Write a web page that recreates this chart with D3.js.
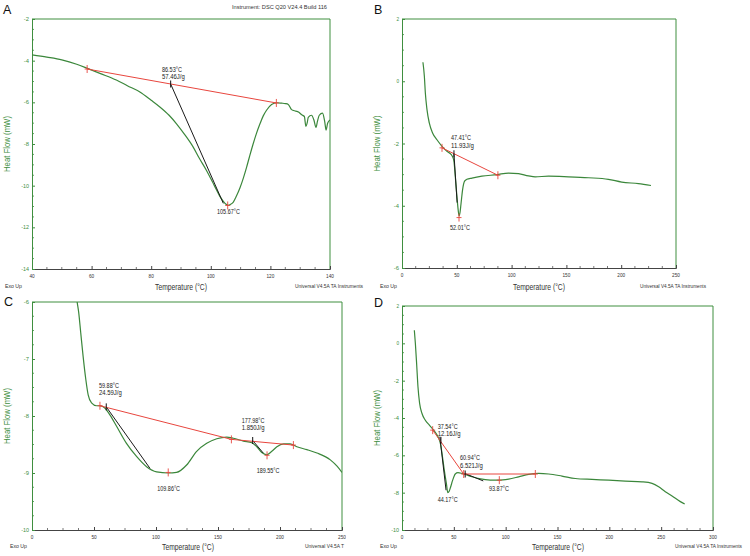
<!DOCTYPE html>
<html><head><meta charset="utf-8">
<script src="https://cdn.jsdelivr.net/npm/d3@7"></script>
<style>body{margin:0;background:#fff}svg{display:block}text{font-family:"Liberation Sans",Arial,sans-serif}</style>
</head><body><svg id="chart" width="750" height="556"></svg>
<script>
// ---------- Panel A ----------
const aTemp = [40,45,50,55,58.8,63,68.3,72,76.2,80,82.9,86,88.5,91,94.1,96,98.6,100.5,101.9,103,104.2,105,105.8,106.6,107.5,108.6,109.8,111,112,113,114.2,115.3,116.5,117.6,118.7,120.4,122.1,123.8,125,126,127.1,128.5,129.4,130.5,131.4,131.9,132.4,132.7,133.8,134.6,135.3,135.8,136.4,137.5,138.2,138.7,139.2,140];
const aHeat = [-3.72,-3.83,-3.96,-4.17,-4.38,-4.62,-4.93,-5.2,-5.5,-5.9,-6.22,-6.62,-7.03,-7.5,-8.15,-8.65,-9.28,-9.8,-10.2,-10.5,-10.75,-10.88,-10.94,-10.9,-10.8,-10.5,-10.1,-9.6,-9.12,-8.6,-8.0,-7.5,-7.03,-6.65,-6.38,-6.1,-6.02,-6.04,-6.06,-6.1,-6.35,-6.42,-6.46,-6.6,-6.68,-7.15,-6.95,-6.72,-6.62,-6.85,-7.2,-6.9,-6.62,-6.52,-6.9,-7.33,-7.0,-6.85];
const aXTicks = [40,60,80,100,120,140];
const aYTicks = [-14,-12,-10,-8,-6,-4,-2];
const aBaseT = [[58.5,122]];
const aBaseH = [[-4.4,-6.03]];
const aTanT = [[86.53,104.2]];
const aTanH = [[-5.12,-10.85]];
const aMarkT = [58.5,122,105.67];
const aMarkH = [-4.4,-6.03,-10.95];
const aOnsetT = [86.53];
const aOnsetH = [-5.12];
const aLabelText = [["86.53°C","57.46J/g"],["105.67°C"]];
const aLabelT = [83.6,102.1];
const aLabelH = [-4.54,-11.36];

// ---------- Panel B ----------
const bTemp = [19.1,20.4,21.3,22.8,24.9,27.9,31.9,36.5,41,45,46.5,47.5,48.6,50.1,51.3,52.1,53,53.8,55.3,57.1,59.2,63.8,72.9,86.6,97.2,106.3,115.4,121.5,133.7,151.9,170.1,188.3,200.5,215.7,227.2];
const bHeat = [0.61,0.16,-0.38,-0.91,-1.34,-1.66,-1.88,-2.09,-2.25,-2.36,-2.45,-2.6,-3.05,-3.7,-4.15,-4.33,-4.2,-3.95,-3.48,-3.21,-3.15,-3.11,-3.05,-3.0,-2.95,-2.97,-3.04,-3.07,-3.05,-3.07,-3.1,-3.15,-3.24,-3.29,-3.35];
const bXTicks = [0,50,100,150,200,250];
const bYTicks = [-6,-4,-2,0,2];
const bBaseT = [[36.5,87.5]];
const bBaseH = [[-2.14,-3.02]];
const bTanT = [[47.41,50.3]];
const bTanH = [[-2.33,-3.9]];
const bMarkT = [36.5,87.5,52.01];
const bMarkH = [-2.14,-3.02,-4.38];
const bOnsetT = [47.41];
const bOnsetH = [-2.33];
const bLabelText = [["47.41°C","11.93J/g"],["52.01°C"]];
const bLabelT = [44.7,43.8];
const bLabelH = [-1.89,-4.78];

// ---------- Panel C ----------
const cTemp = [35.5,36.4,37.7,39.3,41.2,43.4,45.3,48,52,54.7,58.7,62.8,68.2,76.2,84.3,92.4,100.5,109.9,116.6,124.7,132.8,140.9,149,157,162.4,170.5,177.3,181.3,185.3,189.4,193.4,197.5,202.9,208.2,213.6,221.7,229.8,240.6,246,250];
const cHeat = [-5.85,-6.0,-6.19,-6.54,-6.95,-7.36,-7.63,-7.77,-7.82,-7.82,-7.86,-7.98,-8.18,-8.48,-8.71,-8.89,-8.98,-9.0,-8.99,-8.86,-8.62,-8.48,-8.4,-8.37,-8.39,-8.44,-8.47,-8.54,-8.64,-8.68,-8.62,-8.54,-8.49,-8.49,-8.54,-8.59,-8.65,-8.77,-8.88,-8.99];
const cXTicks = [0,50,100,150,200,250];
const cYTicks = [-10,-9,-8,-7,-6];
const cBaseT = [[54.8,160.8],[160.8,210.8]];
const cBaseH = [[-7.82,-8.41],[-8.41,-8.51]];
const cTanT = [[59.88,95.2],[177.98,186.5]];
const cTanH = [[-7.84,-8.92],[-8.43,-8.65]];
const cMarkT = [54.8,160.8,210.8,109.86,189.55];
const cMarkH = [-7.82,-8.41,-8.51,-8.99,-8.69];
const cOnsetT = [59.88,177.98];
const cOnsetH = [-7.84,-8.43];
const cLabelText = [["59.88°C","24.59J/g"],["177.98°C","1.850J/g"],["109.86°C"],["189.55°C"]];
const cLabelT = [54,169.1,101,181.2];
const cLabelH = [-7.5,-8.12,-9.32,-9.0];

// ---------- Panel D ----------
const dTemp = [11.9,12.9,14.1,15.4,17,19.3,22.5,26.4,30.5,34.7,37,38.6,40.8,42.8,44.2,45.5,46.6,48.9,51.4,54,57.9,61.1,67.5,77.2,86.8,93.2,102.9,112.5,122.2,131.8,141.5,154.3,167.2,183.3,199.4,215.4,231.5,241.2,247.6,254,260.5,268.5,272.7];
const dHeat = [0.7,-0.01,-1.08,-2.33,-3.22,-3.76,-4.12,-4.38,-4.65,-5.01,-5.36,-5.9,-6.79,-7.5,-8.0,-7.92,-7.75,-7.33,-7.0,-6.93,-6.97,-7.02,-7.15,-7.27,-7.33,-7.33,-7.27,-7.15,-7.02,-6.97,-7.0,-7.11,-7.24,-7.29,-7.33,-7.38,-7.42,-7.5,-7.68,-7.95,-8.18,-8.48,-8.61];
const dXTicks = [0,50,100,150,200,250,300];
const dYTicks = [-10,-8,-6,-4,-2,0,2];
const dBaseT = [[29.6,59.5],[59.5,128.6]];
const dBaseH = [[-4.65,-7.0],[-7.0,-7.0]];
const dTanT = [[36.5,42.5],[60.94,78.4]];
const dTanH = [[-5.0,-7.87],[-6.98,-7.37]];
const dMarkT = [29.6,59.5,128.6,93.87];
const dMarkH = [-4.65,-7.0,-7.0,-7.33];
const dOnsetT = [37.54,60.94];
const dOnsetH = [-5.2,-7.0];
const dLabelText = [["37.54°C","12.16J/g"],["60.94°C","6.521J/g"],["93.87°C"],["44.17°C"]];
const dLabelT = [34.4,55.9,83.9,34.4];
const dLabelH = [-4.57,-6.26,-7.91,-8.5];

// ---------- layout ----------
const GREEN = "#3f8f3f", CURVE = "#3b873b", RED = "#e8463e", DARK = "#333";
const svg = d3.select("#chart");

const panels = [
  {letter:"A", L:[3,14], box:[32,330,19,269], xd:[40,140], yd:[-14,-2], t:aTemp,h:aHeat, xt:aXTicks, yt:aYTicks, bt:aBaseT,bh:aBaseH, tt:aTanT,th:aTanH, mt:aMarkT,mh:aMarkH, ot:aOnsetT,oh:aOnsetH, lx:aLabelText,lt:aLabelT,lh:aLabelH, foot:[5,289,181,295], uni:"Universal V4.5A TA Instruments", uniLen:68, clip:null},
  {letter:"B", L:[374,14], box:[402,676,19,268], xd:[0,250], yd:[-6,2], t:bTemp,h:bHeat, xt:bXTicks, yt:bYTicks, bt:bBaseT,bh:bBaseH, tt:bTanT,th:bTanH, mt:bMarkT,mh:bMarkH, ot:bOnsetT,oh:bOnsetH, lx:bLabelText,lt:bLabelT,lh:bLabelH, foot:[380,289,539,640], uni:"Universal V4.5A TA Instruments", uniLen:66, clip:null},
  {letter:"C", L:[4,306], box:[32,342,302,530], xd:[0,250], yd:[-10,-6], t:cTemp,h:cHeat, xt:cXTicks, yt:cYTicks, bt:cBaseT,bh:cBaseH, tt:cTanT,th:cTanH, mt:cMarkT,mh:cMarkH, ot:cOnsetT,oh:cOnsetH, lx:cLabelText,lt:cLabelT,lh:cLabelH, foot:[10,549,188,305], uni:"Universal V4.5A T", uniLen:39, clip:346},
  {letter:"D", L:[374,307], box:[402,713,306,530], xd:[0,300], yd:[-10,2], t:dTemp,h:dHeat, xt:dXTicks, yt:dYTicks, bt:dBaseT,bh:dBaseH, tt:dTanT,th:dTanH, mt:dMarkT,mh:dMarkH, ot:dOnsetT,oh:dOnsetH, lx:dLabelText,lt:dLabelT,lh:dLabelH, foot:[380,549,558,675], uni:"Universal V4.5A TA Instruments", uniLen:67, clip:null}
];

const defs = svg.append("defs");
defs.append("clipPath").attr("id","cutC").append("rect").attr("x",0).attr("y",280).attr("width",346).attr("height",276);

svg.append("text").attr("x",232).attr("y",9).attr("font-size",6).attr("fill",DARK)
  .attr("textLength",95).attr("lengthAdjust","spacingAndGlyphs").text("Instrument: DSC Q20 V24.4 Build 116");

panels.forEach((p,pi)=>{
  const [x0,x1,y0,y1] = p.box;
  const root = svg.append("g");
  if (p.clip) root.attr("clip-path","url(#cutC)");
  const x = d3.scaleLinear().domain(p.xd).range([x0,x1]);
  const y = d3.scaleLinear().domain(p.yd).range([y1,y0]);
  const cid = "plot"+pi;
  defs.append("clipPath").attr("id",cid).append("rect").attr("x",x0).attr("y",y0).attr("width",x1-x0).attr("height",y1-y0);

  svg.append("text").attr("x",p.L[0]).attr("y",p.L[1]).attr("font-size",12.5).attr("fill","#111").text(p.letter);

  root.append("path").attr("d",`M${x0},${y0}H${x1}V${y1}`).attr("fill","none").attr("stroke",GREEN).attr("stroke-width",1);

  const xMinor = [];
  for (let i=0;i<p.xt.length-1;i++){ const s=(p.xt[i+1]-p.xt[i])/4; for(let k=1;k<4;k++) xMinor.push(p.xt[i]+k*s); }
  const gx = root.append("g").attr("transform",`translate(0,${y1})`);
  gx.call(d3.axisTop(x).tickValues(p.xt).tickSize(3).tickFormat(""));
  gx.call(g=>g.select(".domain").attr("stroke","#444"));
  gx.selectAll(".tick line").attr("stroke","#444");
  gx.selectAll(".minor").data(xMinor).join("line").attr("class","minor")
    .attr("x1",d=>x(d)).attr("x2",d=>x(d)).attr("y1",0).attr("y2",-2).attr("stroke","#555").attr("stroke-width",0.8);
  gx.selectAll(".xl").data(p.xt).join("text").attr("class","xl")
    .attr("x",d=>x(d)).attr("y",9).attr("text-anchor","middle").attr("font-size",6.2).attr("fill",DARK)
    .attr("textLength",d=>String(d).length*2.6).attr("lengthAdjust","spacingAndGlyphs").text(d=>d);

  const yMinor = [];
  for (let i=0;i<p.yt.length-1;i++){ const s=(p.yt[i+1]-p.yt[i])/4; for(let k=1;k<4;k++) yMinor.push(p.yt[i]+k*s); }
  const gy = root.append("g").attr("transform",`translate(${x0},0)`);
  gy.call(d3.axisRight(y).tickValues(p.yt).tickSize(3).tickFormat(""));
  gy.call(g=>g.select(".domain").attr("stroke",GREEN));
  gy.selectAll(".tick line").attr("stroke",GREEN);
  gy.selectAll(".minor").data(yMinor).join("line").attr("class","minor")
    .attr("y1",d=>y(d)).attr("y2",d=>y(d)).attr("x1",0).attr("x2",2).attr("stroke",GREEN).attr("stroke-width",0.8);
  gy.selectAll(".yl").data(p.yt).join("text").attr("class","yl")
    .attr("x",-3).attr("y",d=>y(d)+2).attr("text-anchor","end").attr("font-size",6.2).attr("fill",GREEN)
    .attr("textLength",d=>String(d).length*2.6).attr("lengthAdjust","spacingAndGlyphs").text(d=>d);

  root.append("text").attr("transform",`translate(${p.box[0]-22},${(y0+y1)/2}) rotate(-90)`)
    .attr("text-anchor","middle").attr("font-size",8.5).attr("fill",GREEN)
    .attr("textLength",56).attr("lengthAdjust","spacingAndGlyphs").text("Heat Flow (mW)");
  const [fx,fy,tc,ux] = p.foot;
  root.append("text").attr("x",fx).attr("y",fy-1).attr("font-size",5.5).attr("fill",DARK)
    .attr("textLength",17).attr("lengthAdjust","spacingAndGlyphs").text("Exo Up");
  root.append("text").attr("x",tc).attr("y",fy+1).attr("text-anchor","middle").attr("font-size",8.5).attr("fill",DARK)
    .attr("textLength",52).attr("lengthAdjust","spacingAndGlyphs").text("Temperature (°C)");
  root.append("text").attr("x",ux).attr("y",fy-1).attr("font-size",4.6).attr("fill",DARK)
    .attr("textLength",p.uniLen).attr("lengthAdjust","spacingAndGlyphs").text(p.uni);

  const plot = root.append("g").attr("clip-path",`url(#${cid})`);
  const line = d3.line().x(d=>x(d[0])).y(d=>y(d[1]));

  plot.append("path").datum(p.t.map((t,i)=>[t,p.h[i]]))
    .attr("d",d3.line().x(d=>x(d[0])).y(d=>y(d[1])).curve(d3.curveMonotoneX))
    .attr("fill","none").attr("stroke",CURVE).attr("stroke-width",1.2);

  p.tt.forEach((tt,i)=>{
    plot.append("path").datum([[tt[0],p.th[i][0]],[tt[1],p.th[i][1]]]).attr("d",line)
      .attr("fill","none").attr("stroke","#1a1a1a").attr("stroke-width",1);
  });
  p.bt.forEach((bt,i)=>{
    plot.append("path").datum([[bt[0],p.bh[i][0]],[bt[1],p.bh[i][1]]]).attr("d",line)
      .attr("fill","none").attr("stroke",RED).attr("stroke-width",1);
  });
  p.mt.forEach((t,i)=>{
    const cx=x(t), cy=y(p.mh[i]);
    plot.append("path").attr("d",`M${cx},${cy-4}V${cy+4}M${cx-2.5},${cy}H${cx+2.5}`).attr("stroke",RED).attr("stroke-width",0.9);
  });
  p.ot.forEach((t,i)=>{
    const cx=x(t), cy=y(p.oh[i]);
    plot.append("path").attr("d",`M${cx},${cy-3.5}V${cy+3.5}`).attr("stroke","#111").attr("stroke-width",1);
  });
  p.lx.forEach((lines,i)=>{
    const tx=x(p.lt[i]), ty=y(p.lh[i]);
    lines.forEach((s,k)=>{
      root.append("text").attr("x",tx).attr("y",ty+k*7.5).attr("font-size",6.3).attr("fill","#222")
        .attr("textLength",s.length*2.85).attr("lengthAdjust","spacingAndGlyphs").text(s);
    });
  });
});
</script></body></html>
